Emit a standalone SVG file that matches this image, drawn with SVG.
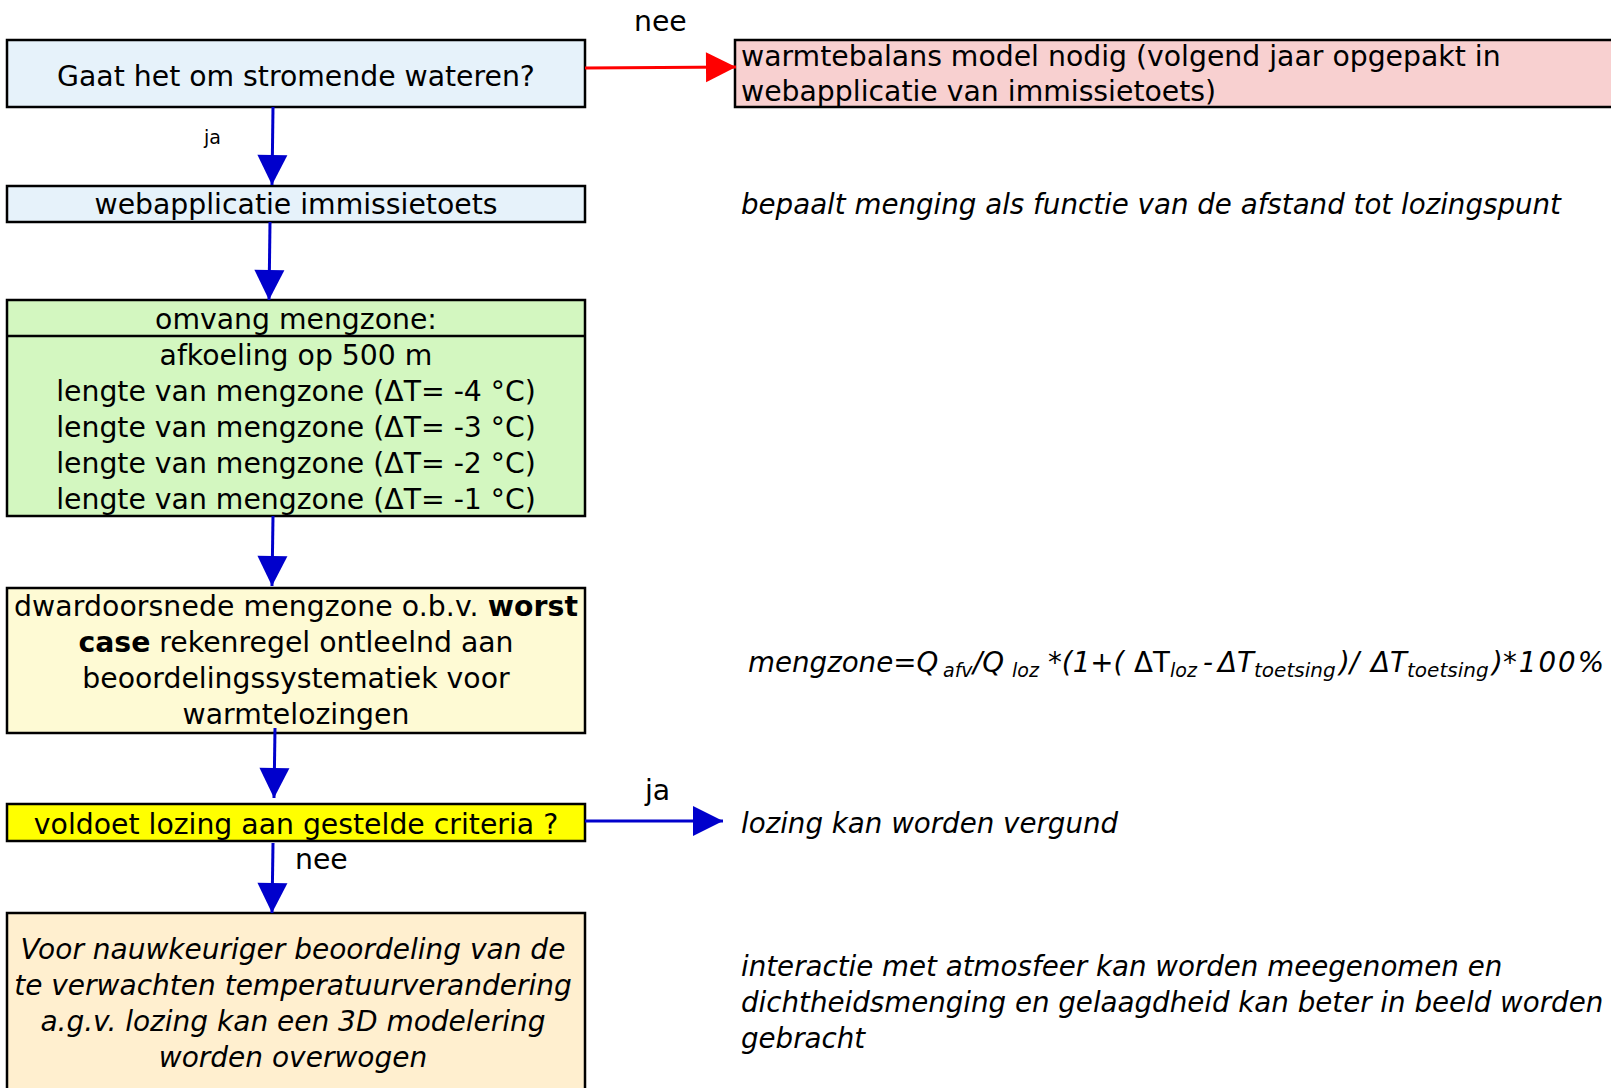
<svg xmlns="http://www.w3.org/2000/svg" width="1611" height="1088" viewBox="0 0 1611 1088">
<style>
text{font-family:"DejaVu Sans","Liberation Sans",sans-serif;font-size:28.3px;fill:#000}
.c{text-anchor:middle}
.it{font-style:italic}
.ri{font-style:italic;font-size:27.7px}
.bi{font-style:italic;font-size:28px}
.sm{font-size:19px}
.box{stroke:#000;stroke-width:2.5}
.blue{stroke:#0000CC;stroke-width:3;fill:none}
.red{stroke:#FF0000;stroke-width:3;fill:none}
.sub{font-size:19px}
</style>
<defs>
<marker id="ab" markerUnits="userSpaceOnUse" markerWidth="30" markerHeight="30" refX="30" refY="15" orient="auto" overflow="visible"><path d="M0,0 L30,15 L0,30 z" fill="#0000CC"/></marker>
<marker id="ar" markerUnits="userSpaceOnUse" markerWidth="30" markerHeight="30" refX="30" refY="15" orient="auto" overflow="visible"><path d="M0,0 L30,15 L0,30 z" fill="#FF0000"/></marker>
</defs>
<rect width="1611" height="1088" fill="#fff"/>

<g id="n-stromend">
<rect class="box" x="7" y="40" width="578" height="67" fill="#E6F2FA"/>
<text class="c" x="296" y="85.5">Gaat het om stromende wateren?</text>
</g>

<g id="n-warmtebalans">
<rect class="box" x="735" y="40" width="890" height="67" fill="#F8D0D0"/>
<text x="741" y="65.5">warmtebalans model nodig (volgend jaar opgepakt in</text>
<text x="741" y="100.5">webapplicatie van immissietoets)</text>
</g>

<g id="n-webapp">
<rect class="box" x="7" y="186" width="578" height="36" fill="#E6F2FA"/>
<text class="c" x="296" y="213.5">webapplicatie immissietoets</text>
</g>
<text id="t-bepaalt" class="ri" x="741" y="214">bepaalt menging als functie van de afstand tot lozingspunt</text>

<g id="n-omvang">
<rect class="box" x="7" y="300" width="578" height="216" fill="#D3F7C0"/>
<line class="box" x1="7" y1="336" x2="585" y2="336"/>
<text class="c" x="296" y="328.5">omvang mengzone:</text>
<text class="c" x="296" y="364.5">afkoeling op 500 m</text>
<text class="c" x="296" y="400.5">lengte van mengzone (ΔT= -4 °C)</text>
<text class="c" x="296" y="436.5">lengte van mengzone (ΔT= -3 °C)</text>
<text class="c" x="296" y="472.5">lengte van mengzone (ΔT= -2 °C)</text>
<text class="c" x="296" y="508.5">lengte van mengzone (ΔT= -1 °C)</text>
</g>

<g id="n-dwars">
<rect class="box" x="7" y="588" width="578" height="145" fill="#FEFAD4"/>
<text class="c" x="296" y="615.5" textLength="564" lengthAdjust="spacing">dwardoorsnede mengzone o.b.v. <tspan font-weight="bold">worst</tspan></text>
<text class="c" x="296" y="651.5"><tspan font-weight="bold">case</tspan> rekenregel ontleelnd aan</text>
<text class="c" x="296" y="687.5">beoordelingssystematiek voor</text>
<text class="c" x="296" y="723.5">warmtelozingen</text>
</g>

<text id="t-formule" class="ri" y="671.5"><tspan x="748">mengzone=Q</tspan><tspan class="sub" x="943" y="676.5">afv</tspan><tspan x="973" y="671.5">/Q</tspan><tspan class="sub" x="1012" y="676.5">loz</tspan><tspan x="1048" y="671.5">*(1+(</tspan><tspan x="1134" font-style="normal">ΔT</tspan><tspan class="sub" x="1170" y="676.5">loz</tspan><tspan x="1203" y="671.5">-</tspan><tspan x="1218">ΔT</tspan><tspan x="1254" y="676.5" font-size="20">toetsing</tspan><tspan x="1339" y="671.5">)/</tspan><tspan x="1371">ΔT</tspan><tspan x="1407" y="676.5" font-size="20">toetsing</tspan><tspan x="1492" y="671.5">)</tspan><tspan x="1503" letter-spacing="2">*100%</tspan></text>

<g id="n-criteria">
<rect class="box" x="7" y="804" width="578" height="37" fill="#FFFF00"/>
<text class="c" x="296" y="833.5">voldoet lozing aan gestelde criteria ?</text>
</g>
<text id="t-vergund" class="ri" x="741" y="832.5">lozing kan worden vergund</text>

<g id="n-3d">
<rect class="box" x="7" y="913" width="578" height="200" fill="#FFEFCF"/>
<text class="c bi" x="293" y="958.5">Voor nauwkeuriger beoordeling van de</text>
<text class="c bi" x="293" y="994.5">te verwachten temperatuurverandering</text>
<text class="c bi" x="293" y="1030.5">a.g.v. lozing kan een 3D modelering</text>
<text class="c bi" x="293" y="1066.5">worden overwogen</text>
</g>

<g id="t-interactie">
<text class="ri" x="741" y="975.5">interactie met atmosfeer kan worden meegenomen en</text>
<text class="ri" x="741" y="1011.5">dichtheidsmenging en gelaagdheid kan beter in beeld worden</text>
<text class="ri" x="741" y="1047.5">gebracht</text>
</g>

<g id="connectors">
<line class="red" x1="585" y1="68" x2="736" y2="67" marker-end="url(#ar)"/>
<text x="634" y="30.5" font-size="27">nee</text>
<line class="blue" x1="273" y1="107" x2="272" y2="185" marker-end="url(#ab)"/>
<text class="sm" x="204" y="143.5">ja</text>
<line class="blue" x1="270" y1="222" x2="269" y2="300" marker-end="url(#ab)"/>
<line class="blue" x1="273" y1="516" x2="272" y2="586" marker-end="url(#ab)"/>
<line class="blue" x1="275" y1="728" x2="274" y2="798" marker-end="url(#ab)"/>
<line class="blue" x1="585" y1="821" x2="723" y2="821" marker-end="url(#ab)"/>
<text x="645" y="799.5" font-size="27">ja</text>
<line class="blue" x1="273" y1="843" x2="272" y2="913" marker-end="url(#ab)"/>
<text x="295" y="868.5" font-size="27">nee</text>
</g>
</svg>
